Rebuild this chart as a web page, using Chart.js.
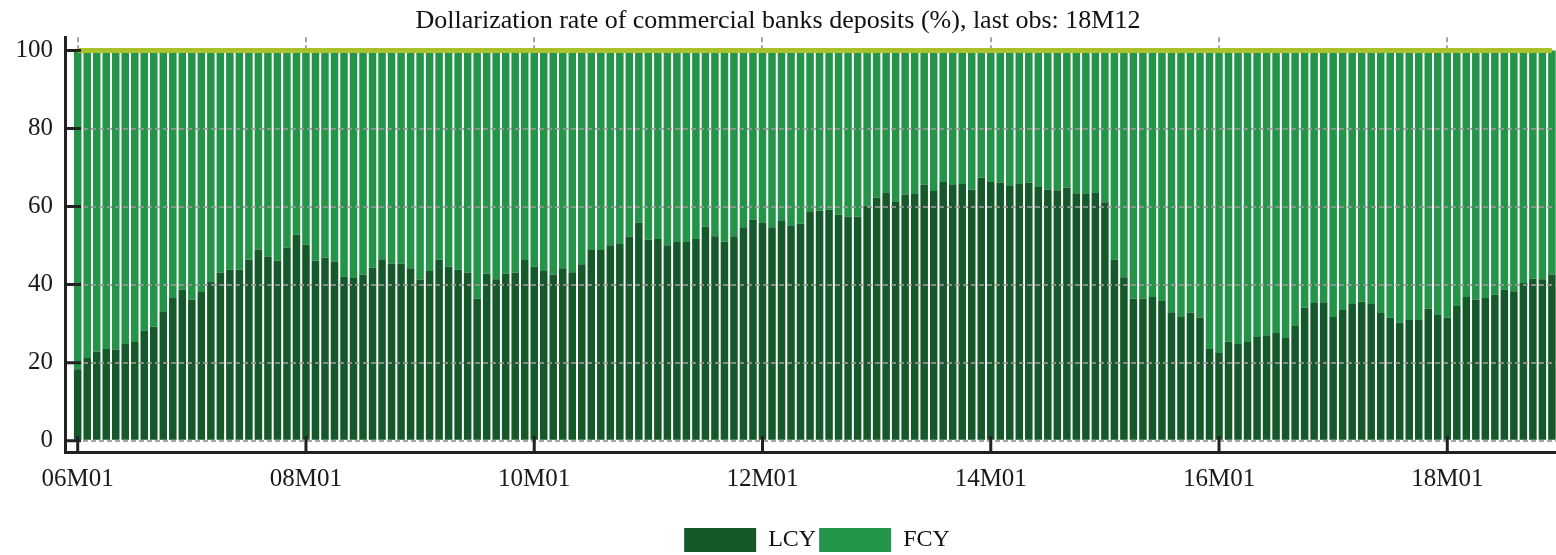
<!DOCTYPE html>
<html>
<head>
<meta charset="utf-8">
<script src="https://cdn.jsdelivr.net/npm/chart.js@4.4.1/dist/chart.umd.min.js"></script>
<style>
  html, body { margin: 0; padding: 0; background: #ffffff; }
  #wrap { width: 1556px; height: 555px; }
</style>
</head>
<body>
<div id="wrap"><canvas id="c" width="1556" height="555"></canvas></div>
<script>
// ---- data ----
const years = ['06','07','08','09','10','11','12','13','14','15','16','17','18'];
const months = ['M01','M02','M03','M04','M05','M06','M07','M08','M09','M10','M11','M12'];
const categories = years.flatMap(y => months.map(m => y + m));

const lcy = [
  18.3,21.2,22.8,23.5,23.4,24.8,25.3,28.2,29.2,33.0,36.6,38.7,
  36.2,38.1,40.7,43.1,43.8,43.8,46.4,49.0,47.2,46.1,49.5,52.8,
  50.2,46.1,46.9,45.9,42.0,41.7,42.5,44.3,46.5,45.4,45.4,44.2,
  41.3,43.5,46.4,44.6,43.8,43.1,36.4,42.8,41.4,42.8,43.1,46.3,
  44.6,43.5,42.6,44.2,43.2,45.2,48.9,48.9,50.1,50.4,52.3,55.9,
  51.5,51.7,50.1,50.9,50.9,51.7,54.8,52.4,51.0,52.4,54.7,56.7,
  55.9,54.7,56.5,55.0,55.6,58.8,58.9,59.2,57.9,57.4,57.4,60.2,
  62.3,63.5,61.2,63.1,63.2,65.6,64.0,66.3,65.7,65.8,64.4,67.4,
  66.3,66.1,65.3,65.8,66.2,65.0,64.4,64.2,64.8,63.4,63.2,63.5,
  61.1,46.4,41.9,36.4,36.4,36.8,35.8,32.9,31.7,32.8,31.6,23.5,
  22.5,25.4,24.8,25.3,26.6,27.0,27.6,26.3,29.4,34.1,35.3,35.5,
  31.7,33.5,35.0,35.6,35.0,32.7,31.5,30.2,30.9,30.9,33.8,32.2,
  31.5,34.5,36.8,36.1,36.6,37.4,38.7,38.3,40.4,41.5,41.4,42.6
];

const fcy = [
  81.7,78.8,77.2,76.5,76.6,75.2,74.7,71.8,70.8,67.0,63.4,61.3,
  63.8,61.9,59.3,56.9,56.2,56.2,53.6,51.0,52.8,53.9,50.5,47.2,
  49.8,53.9,53.1,54.1,58.0,58.3,57.5,55.7,53.5,54.6,54.6,55.8,
  58.7,56.5,53.6,55.4,56.2,56.9,63.6,57.2,58.6,57.2,56.9,53.7,
  55.4,56.5,57.4,55.8,56.8,54.8,51.1,51.1,49.9,49.6,47.7,44.1,
  48.5,48.3,49.9,49.1,49.1,48.3,45.2,47.6,49.0,47.6,45.3,43.3,
  44.1,45.3,43.5,45.0,44.4,41.2,41.1,40.8,42.1,42.6,42.6,39.8,
  37.7,36.5,38.8,36.9,36.8,34.4,36.0,33.7,34.3,34.2,35.6,32.6,
  33.7,33.9,34.7,34.2,33.8,35.0,35.6,35.8,35.2,36.6,36.8,36.5,
  38.9,53.6,58.1,63.6,63.6,63.2,64.2,67.1,68.3,67.2,68.4,76.5,
  77.5,74.6,75.2,74.7,73.4,73.0,72.4,73.7,70.6,65.9,64.7,64.5,
  68.3,66.5,65.0,64.4,65.0,67.3,68.5,69.8,69.1,69.1,66.2,67.8,
  68.5,65.5,63.2,63.9,63.4,62.6,61.3,61.7,59.6,58.5,58.6,57.4
];

const totalLevel = 100;
const xTickLabels = ['06M01','08M01','10M01','12M01','14M01','16M01','18M01'];
const yTickValues = [0, 20, 40, 60, 80, 100];
const seriesNames = ['LCY', 'FCY'];
const titleText = 'Dollarization rate of commercial banks deposits (%), last obs: 18M12';

// ---- chart ----
const FONT = "'Liberation Serif', 'Times New Roman', serif";
Chart.defaults.font.family = FONT;
Chart.defaults.color = '#1a1a1a';

const toPoints = arr => arr.map((v, i) => ({ x: i, y: v }));
const xTickValues = xTickLabels.map(l => categories.indexOf(l));
const lastIdx = categories.length - 1;

const inwardTicks = {
  id: 'inwardTicks',
  afterDraw(chart) {
    const { ctx, chartArea, scales } = chart;
    ctx.save();
    ctx.strokeStyle = '#222';
    ctx.lineWidth = 3;
    ctx.beginPath();
    yTickValues.forEach(v => {
      const y = scales.y.getPixelForValue(v);
      ctx.moveTo(chartArea.left, y);
      ctx.lineTo(chartArea.left + 16, y);
    });
    xTickValues.forEach(v => {
      const x = scales.x.getPixelForValue(v);
      ctx.moveTo(x, chartArea.bottom);
      ctx.lineTo(x, chartArea.bottom - 16);
    });
    ctx.stroke();
    ctx.restore();
  }
};

const legendShift = {
  id: 'legendShift',
  afterLayout(chart) {
    const lg = chart.legend;
    if (lg) { lg.left += 39; lg.right += 39; lg.top += 7; lg.bottom += 7; }
  }
};

new Chart(document.getElementById('c'), {
  data: {
    datasets: [
      {
        type: 'bar', label: seriesNames[0], data: toPoints(lcy),
        backgroundColor: '#15582a', borderWidth: 0,
        barPercentage: 0.79, categoryPercentage: 1.0, order: 2
      },
      {
        type: 'bar', label: seriesNames[1], data: toPoints(fcy),
        backgroundColor: '#239448', borderWidth: 0,
        barPercentage: 0.79, categoryPercentage: 1.0, order: 2
      },
      {
        type: 'line', label: 'Total', stack: 'ref',
        data: [{ x: 0, y: totalLevel }, { x: lastIdx, y: totalLevel }],
        borderColor: '#a9c22c', borderWidth: 5, pointRadius: 0,
        fill: false, order: 0
      }
    ]
  },
  options: {
    responsive: false,
    devicePixelRatio: 1,
    animation: false,
    layout: { padding: 0 },
    plugins: {
      title: {
        display: true, text: titleText,
        font: { size: 26, weight: 'normal', family: FONT },
        color: '#111',
        padding: { top: 6, bottom: 0 }
      },
      legend: {
        position: 'bottom',
        labels: {
          boxWidth: 72, boxHeight: 24, padding: 3,
          font: { size: 24, family: FONT }, color: '#111',
          filter: item => item.datasetIndex < 2
        }
      },
      tooltip: { enabled: false }
    },
    scales: {
      x: {
        type: 'linear',
        stacked: true,
        offset: false,
        min: -1.335, max: 155.43,
        afterBuildTicks: s => { s.ticks = xTickValues.map(v => ({ value: v })); },
        afterFit: s => { s.height = 66; },
        ticks: {
          autoSkip: false, maxRotation: 0, padding: 12,
          font: { size: 25, family: FONT }, color: '#1a1a1a',
          callback: v => categories[v]
        },
        grid: { offset: false, color: 'rgba(150,150,150,0.85)', lineWidth: 2, drawTicks: false },
        border: { display: true, color: '#222', width: 3, dash: [5, 3] }
      },
      y: {
        type: 'linear',
        stacked: true,
        min: -2.9, max: 103.41,
        afterBuildTicks: s => { s.ticks = yTickValues.map(v => ({ value: v })); },
        afterFit: s => { s.width = 65; },
        ticks: {
          padding: 12,
          font: { size: 25, family: FONT }, color: '#1a1a1a',
          callback: v => String(v)
        },
        grid: {
          color: ctx => (ctx.tick && ctx.tick.value === totalLevel) ? 'rgba(0,0,0,0)' : 'rgba(150,150,150,0.85)',
          lineWidth: 2, drawTicks: false, z: 1
        },
        border: { display: true, color: '#222', width: 3, dash: [5, 3], z: 1 }
      }
    }
  },
  plugins: [inwardTicks, legendShift]
});
</script>
</body>
</html>
